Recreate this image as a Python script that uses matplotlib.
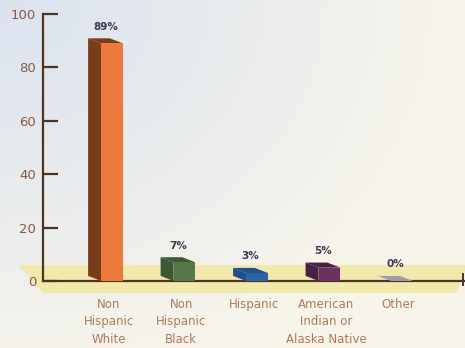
import numpy as np
import matplotlib
matplotlib.use("Agg")
import matplotlib.pyplot as plt
from matplotlib.patches import Polygon

categories = ["Non\nHispanic\nWhite", "Non\nHispanic\nBlack", "Hispanic",
              "American\nIndian or\nAlaska Native", "Other"]
values = [89, 7, 3, 5, 0]
value_labels = ["89%", "7%", "3%", "5%", "0%"]
yticks = [0, 20, 40, 60, 80, 100]

front_cols = ["#ec7a3c", "#55784a", "#2e63a8", "#6a3060", "#b9b9c6"]
side_cols = ["#7a3d1c", "#3d5934", "#22508c", "#4a1f44", "#9c9cab"]

W, H = 465, 348
fig = plt.figure(figsize=(W / 100, H / 100), dpi=100)

# soft scanned-paper background, bluish in the top-left corner
bg = fig.add_axes([0, 0, 1, 1])
gx, gy = np.meshgrid(np.linspace(0, 1, 200), np.linspace(0, 1, 200))
d = np.sqrt(gx ** 2 + (1 - gy) ** 2 * 0.8)
t = np.clip(d / 1.0, 0, 1)
c1 = np.array([0.86, 0.89, 0.94])
c2 = np.array([0.97, 0.96, 0.92])
img = c1[None, None, :] * (1 - t[..., None]) + c2[None, None, :] * t[..., None]
bg.imshow(img, aspect="auto", extent=[0, 1, 0, 1], origin="lower")
bg.axis("off")

ax = fig.add_axes([43 / W, (H - 281) / H, 1 - 43 / W, (281 - 14) / H])
ax.patch.set_alpha(0)
x = np.arange(len(values))
ax.set_xlim(-0.952, 4.869)
ax.set_ylim(0, 100)

axis_col = "#4e3222"
for s in ["top", "right"]:
    ax.spines[s].set_visible(False)
ax.spines["left"].set_color(axis_col)
ax.spines["bottom"].set_color(axis_col)
ax.spines["left"].set_linewidth(1.6)
ax.spines["bottom"].set_linewidth(1.6)

# floor band
floor = Polygon([(-1.29, 6), (4.9, 6), (4.75, -4.5), (-0.95, -4.5)],
                closed=True, facecolor="#f1e8ac", edgecolor="none",
                zorder=0, clip_on=False)
ax.add_patch(floor)
ax.plot([4.84, 4.84], [-1.5, 2.5], color=axis_col, lw=1.4, clip_on=False)

w = 0.3
dx, dy = -0.18, 1.9
for xi, v, fc, sc, lab in zip(x, values, front_cols, side_cols, value_labels):
    l, r = xi - w / 2, xi + w / 2
    side = Polygon([(l, 0), (l + dx, dy), (l + dx, v + dy), (l, v)],
                   closed=True, facecolor=sc, edgecolor="none", zorder=3,
                   clip_on=False)
    top = Polygon([(l, v), (r, v), (r + dx, v + dy), (l + dx, v + dy)],
                  closed=True, facecolor=sc, edgecolor="none", zorder=3,
                  clip_on=False)
    ax.add_patch(side)
    ax.add_patch(top)
    ax.text(xi + dx / 2, v + dy + 2.5, lab, ha="center", va="bottom",
            fontsize=7.5, fontweight="bold", color="#3a3a52")
ax.bar(x, values, width=w, color=front_cols, zorder=4)

ax.set_yticks(yticks)
ax.tick_params(axis="y", direction="in", length=11, width=1.6,
               color=axis_col, labelcolor="#8a5a40", labelsize=9.5, pad=5)
ax.set_xticks(x + dx / 4)
ax.set_xticklabels(categories, fontsize=8.5, color="#b07a58",
                   linespacing=1.45)
ax.tick_params(axis="x", length=0, pad=12)

fig.savefig("out.png", dpi=100)
